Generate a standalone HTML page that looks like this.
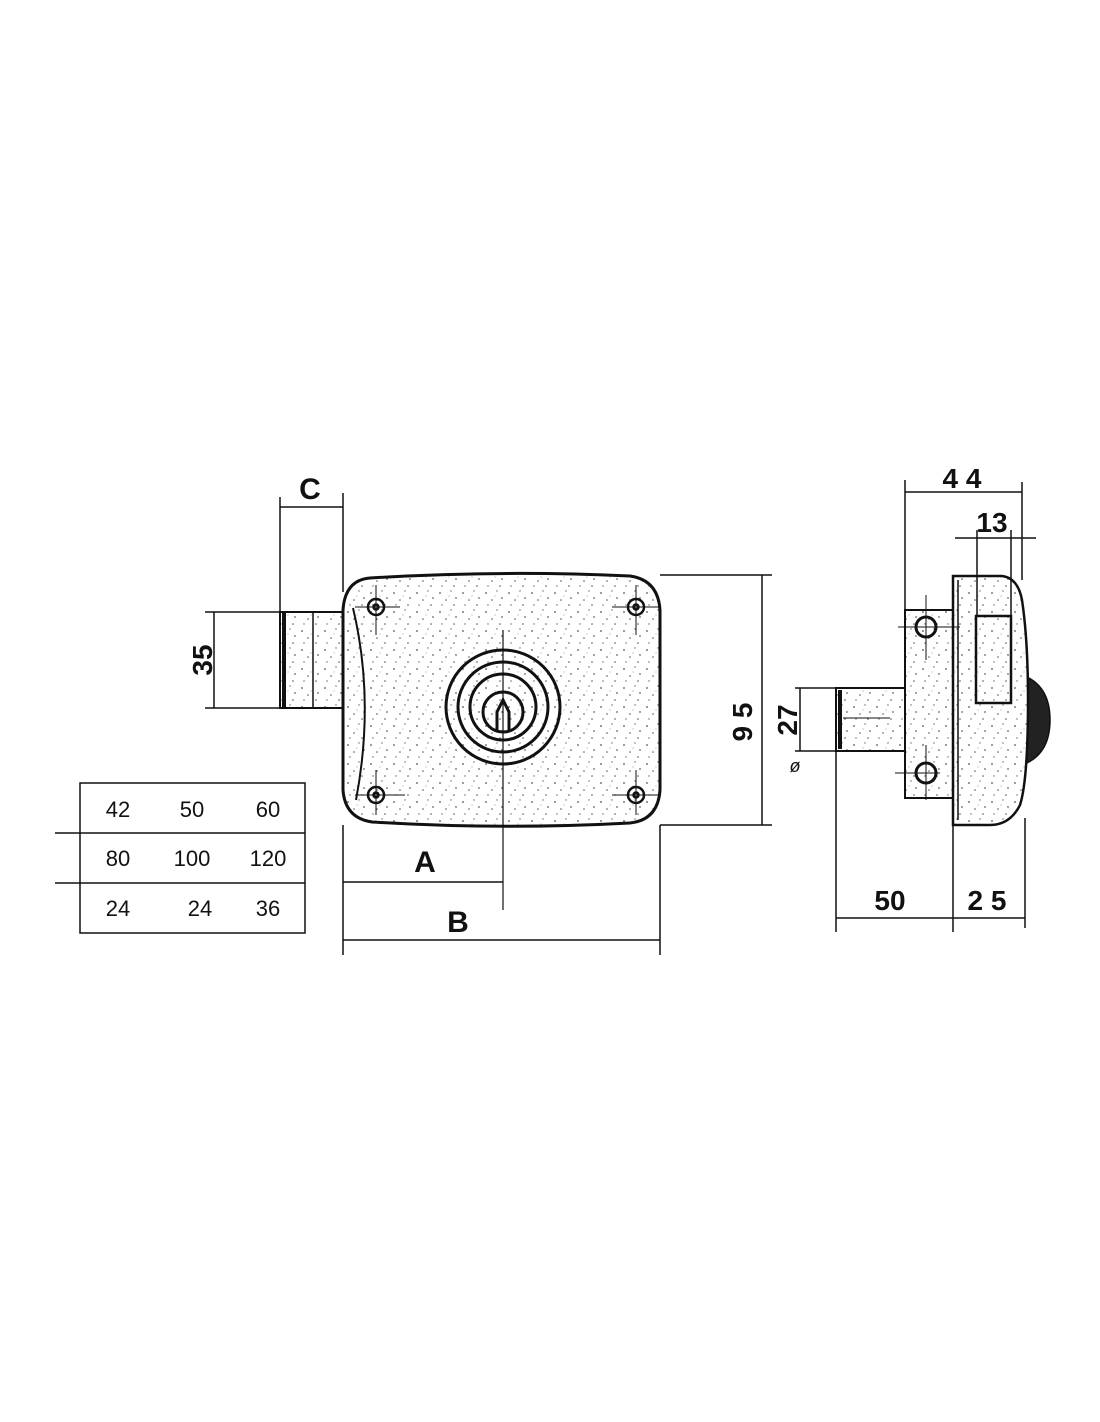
<!DOCTYPE html>
<html><head><meta charset="utf-8"><style>html,body{margin:0;padding:0;background:#fff}svg{display:block}text{font-family:"Liberation Sans",sans-serif;font-weight:bold;fill:#111}text.n{font-weight:normal}</style></head>
<body>
<svg width="1100" height="1422" viewBox="0 0 1100 1422" xmlns="http://www.w3.org/2000/svg">
<defs>
<pattern id="sp" width="23" height="19" patternUnits="userSpaceOnUse">
<rect width="23" height="19" fill="#fff"/>
<circle cx="3" cy="4" r="0.9" fill="#555"/><circle cx="14" cy="2" r="0.7" fill="#666"/>
<circle cx="9" cy="11" r="0.8" fill="#555"/><circle cx="19" cy="9" r="0.9" fill="#666"/>
<circle cx="5" cy="16" r="0.7" fill="#666"/><circle cx="17" cy="16" r="0.8" fill="#555"/>
<circle cx="12" cy="7" r="0.5" fill="#777"/>
</pattern>
</defs>
<g stroke="#111" fill="none" stroke-width="1.5">
<rect x="280" y="612" width="63" height="96" fill="url(#sp)" stroke-width="2"/>
<line x1="284" y1="612" x2="284" y2="708" stroke-width="4"/>
<line x1="313" y1="612" x2="313" y2="708"/>
<path d="M370 578 Q500 570 630 576 Q658 580 660 610 L660 790 Q658 820 630 823 Q500 830 372 822 Q345 818 343 790 L343 610 Q345 580 370 578 Z" fill="url(#sp)" stroke-width="3"/>
<path d="M353 608 Q375 700 356 800" stroke-width="2"/>
<circle cx="503" cy="707" r="57" stroke-width="3"/>
<circle cx="503" cy="707" r="45" stroke-width="3"/>
<circle cx="503" cy="707" r="33" stroke-width="3"/>
<circle cx="503" cy="712" r="20" stroke-width="3"/>
<path d="M497 730 L497 712 L503 700 L509 712 L509 730" stroke-width="3"/>
<line x1="503" y1="630" x2="503" y2="910" stroke-width="1.2"/>
<g stroke-width="2.5">
<circle cx="376" cy="607" r="8"/><circle cx="376" cy="607" r="2.5"/>
<circle cx="636" cy="607" r="8"/><circle cx="636" cy="607" r="2.5"/>
<circle cx="376" cy="795" r="8"/><circle cx="376" cy="795" r="2.5"/>
<circle cx="636" cy="795" r="8"/><circle cx="636" cy="795" r="2.5"/>
</g>
<g stroke-width="1">
<line x1="376" y1="585" x2="376" y2="635"/><line x1="355" y1="607" x2="400" y2="607"/>
<line x1="636" y1="585" x2="636" y2="635"/><line x1="612" y1="607" x2="660" y2="607"/>
<line x1="376" y1="770" x2="376" y2="815"/><line x1="355" y1="795" x2="405" y2="795"/>
<line x1="636" y1="770" x2="636" y2="815"/><line x1="612" y1="795" x2="660" y2="795"/>
</g>
<line x1="280" y1="497" x2="280" y2="612"/>
<line x1="343" y1="493" x2="343" y2="592"/>
<line x1="280" y1="507" x2="343" y2="507"/>
<line x1="205" y1="612" x2="280" y2="612"/>
<line x1="205" y1="708" x2="280" y2="708"/>
<line x1="214" y1="612" x2="214" y2="708"/>
<line x1="660" y1="575" x2="772" y2="575"/>
<line x1="660" y1="825" x2="772" y2="825"/>
<line x1="762" y1="575" x2="762" y2="825"/>
<line x1="343" y1="825" x2="343" y2="955"/>
<line x1="660" y1="825" x2="660" y2="955"/>
<line x1="343" y1="882" x2="503" y2="882"/>
<line x1="343" y1="940" x2="660" y2="940"/>
<rect x="80" y="783" width="225" height="150"/>
<line x1="55" y1="833" x2="305" y2="833"/>
<line x1="55" y1="883" x2="305" y2="883"/>
<rect x="836" y="688" width="69" height="63" fill="url(#sp)" stroke-width="2"/>
<line x1="840" y1="690" x2="840" y2="749" stroke-width="4"/>
<line x1="843" y1="718" x2="890" y2="718" stroke-width="1"/>
<rect x="905" y="610" width="48" height="188" fill="url(#sp)" stroke-width="2"/>
<path d="M1022 675 Q1050 685 1050 720 Q1050 755 1022 765 Z" fill="#222"/>
<path d="M953 576 L1002 576 Q1018 578 1022 600 Q1028 640 1028 700 Q1028 780 1020 805 Q1010 825 990 825 L953 825 Z" fill="url(#sp)" stroke-width="2.5"/>
<line x1="958" y1="580" x2="958" y2="820"/>
<rect x="976" y="616" width="35" height="87" stroke-width="2.5"/>
<g stroke-width="3"><circle cx="926" cy="627" r="10"/><circle cx="926" cy="773" r="10"/></g>
<g stroke-width="1"><line x1="926" y1="595" x2="926" y2="660"/><line x1="898" y1="627" x2="960" y2="627"/>
<line x1="926" y1="745" x2="926" y2="800"/><line x1="895" y1="773" x2="940" y2="773"/></g>
<line x1="905" y1="480" x2="905" y2="610"/>
<line x1="1022" y1="482" x2="1022" y2="580"/>
<line x1="905" y1="492" x2="1022" y2="492"/>
<line x1="955" y1="538" x2="1036" y2="538"/>
<line x1="977" y1="530" x2="977" y2="616"/>
<line x1="1011" y1="530" x2="1011" y2="616"/>
<line x1="795" y1="688" x2="836" y2="688"/>
<line x1="795" y1="751" x2="836" y2="751"/>
<line x1="800" y1="688" x2="800" y2="751"/>
<line x1="836" y1="751" x2="836" y2="932"/>
<line x1="953" y1="825" x2="953" y2="932"/>
<line x1="1025" y1="818" x2="1025" y2="928"/>
<line x1="836" y1="918" x2="1025" y2="918"/>
</g>
<text x="310" y="499" font-size="30" text-anchor="middle">C</text>
<text x="425" y="872" font-size="30" text-anchor="middle">A</text>
<text x="458" y="932" font-size="30" text-anchor="middle">B</text>
<text transform="translate(212,660) rotate(-90)" font-size="28" text-anchor="middle">35</text>
<text transform="translate(752,722) rotate(-90)" font-size="28" text-anchor="middle">9 5</text>
<text transform="translate(797,720) rotate(-90)" font-size="28" text-anchor="middle">27</text>
<text class="n" x="795" y="772" font-size="18" font-style="italic" text-anchor="middle">ø</text>
<text x="962" y="488" font-size="28" text-anchor="middle">4 4</text>
<text x="992" y="532" font-size="28" text-anchor="middle">13</text>
<text x="890" y="910" font-size="28" text-anchor="middle">50</text>
<text x="987" y="910" font-size="28" text-anchor="middle">2 5</text>
<g font-size="22" text-anchor="middle">
<text class="n" x="118" y="817">42</text><text class="n" x="192" y="817">50</text><text class="n" x="268" y="817">60</text>
<text class="n" x="118" y="866">80</text><text class="n" x="192" y="866">100</text><text class="n" x="268" y="866">120</text>
<text class="n" x="118" y="916">24</text><text class="n" x="200" y="916">24</text><text class="n" x="268" y="916">36</text>
</g>
</svg>
</body></html>
